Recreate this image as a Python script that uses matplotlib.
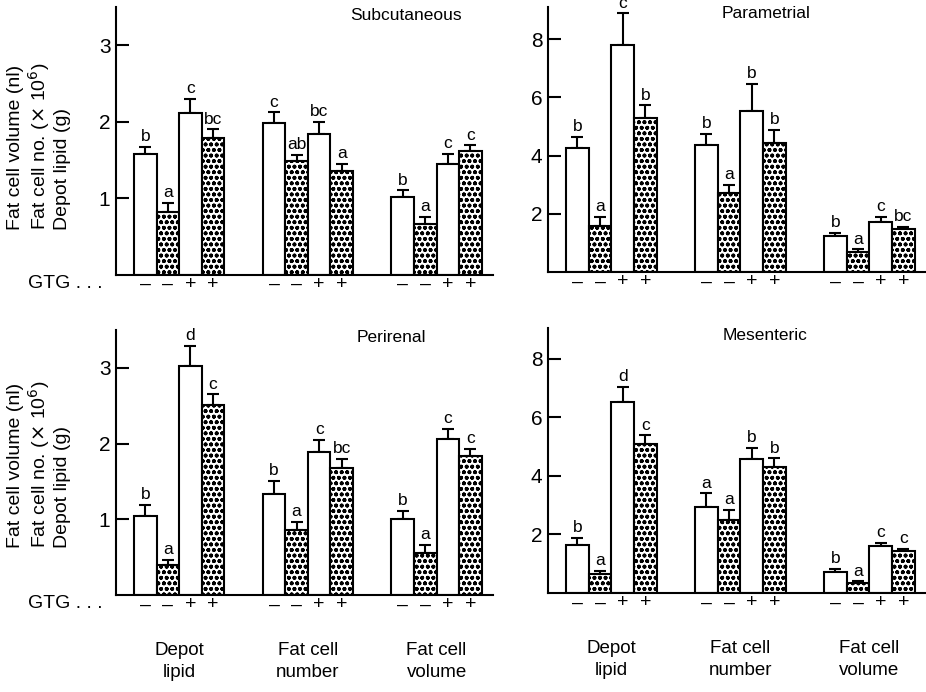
import matplotlib
matplotlib.use("Agg")
import matplotlib.pyplot as plt
import numpy as np

plt.rcParams['font.family'] = ['Liberation Sans', 'DejaVu Sans']
plt.rcParams['hatch.linewidth'] = 1.2
plt.rcParams['hatch.color'] = 'black'

# GTG treatment per bar within each group
gtg = ['–', '–', '+', '+']
grupos = ['Depot\nlipid', 'Fat cell\nnumber', 'Fat cell\nvolume']

# medias e erros (SEM) -- por deposito, 3 grupos x 4 barras
sub_media = [[1.58, 0.82, 2.11, 1.78], [1.98, 1.48, 1.84, 1.35], [1.01, 0.66, 1.45, 1.61]]
sub_erro = [[0.09, 0.12, 0.19, 0.12], [0.14, 0.08, 0.16, 0.10], [0.09, 0.09, 0.13, 0.08]]
sub_letras = [['b', 'a', 'c', 'bc'], ['c', 'ab', 'bc', 'a'], ['b', 'a', 'c', 'c']]

par_media = [[4.26, 1.58, 7.81, 5.28], [4.37, 2.70, 5.53, 4.43], [1.25, 0.70, 1.73, 1.49]]
par_erro = [[0.38, 0.31, 1.07, 0.44], [0.38, 0.28, 0.93, 0.46], [0.10, 0.08, 0.17, 0.07]]
par_letras = [['b', 'a', 'c', 'b'], ['b', 'a', 'b', 'b'], ['b', 'a', 'c', 'bc']]

per_media = [[1.04, 0.40, 3.03, 2.51], [1.34, 0.86, 1.89, 1.68], [1.00, 0.56, 2.06, 1.84]]
per_erro = [[0.15, 0.06, 0.26, 0.14], [0.17, 0.11, 0.16, 0.12], [0.11, 0.10, 0.13, 0.09]]
per_letras = [['b', 'a', 'd', 'c'], ['b', 'a', 'c', 'bc'], ['b', 'a', 'c', 'c']]

mes_media = [[1.63, 0.66, 6.53, 5.10], [2.93, 2.51, 4.58, 4.30], [0.71, 0.35, 1.62, 1.43]]
mes_erro = [[0.25, 0.09, 0.52, 0.28], [0.47, 0.32, 0.37, 0.30], [0.12, 0.05, 0.10, 0.08]]
mes_letras = [['b', 'a', 'd', 'c'], ['a', 'a', 'b', 'b'], ['b', 'a', 'c', 'c']]

W, H = 926, 692
fig = plt.figure(figsize=(W / 100, H / 100), dpi=100)

def px_axes(x0, y_top, x1, y_bot):
    return fig.add_axes([x0 / W, 1 - y_bot / H, (x1 - x0) / W, (y_bot - y_top) / H])

inicio_grupo = [0.8, 6.5, 12.2]

def painel(ax, medias, erros, letras, titulo, ymax, yticks, tx, ty):
    xs_all, labels_all = [], []
    for g in range(3):
        xs = inicio_grupo[g] + np.arange(4) + 0.5
        for i in range(4):
            pontilhado = i % 2 == 1
            ax.bar(xs[i], medias[g][i], width=1.0, color='white', edgecolor='black',
                   linewidth=1.5, hatch='...ooo' if pontilhado else None, zorder=2)
        ax.errorbar(xs, medias[g], yerr=[np.zeros(4), erros[g]], fmt='none', ecolor='black',
                    elinewidth=1.5, capsize=4, capthick=1.5, zorder=1)
        for i in range(4):
            ax.annotate(letras[g][i], (xs[i], medias[g][i] + erros[g][i]), xytext=(0, 2),
                        textcoords='offset points', ha='center', va='bottom', fontsize=12.5)
        xs_all += list(xs)
        labels_all += gtg
    ax.set_xlim(0, 16.7)
    ax.set_ylim(0, ymax)
    ax.set_yticks(yticks)
    ax.set_yticklabels([str(t) for t in yticks], fontsize=15)
    ax.set_xticks(xs_all)
    ax.set_xticklabels(labels_all, fontsize=14)
    ax.tick_params(axis='x', length=0, pad=1)
    ax.tick_params(axis='y', direction='in', length=9, width=1.5, pad=4)
    for s in ['top', 'right']:
        ax.spines[s].set_visible(False)
    for s in ['left', 'bottom']:
        ax.spines[s].set_linewidth(1.5)
    ax.text(tx, ty, titulo, transform=ax.transAxes, ha='center', va='center', fontsize=12.5)

ax1 = px_axes(116, 7, 493, 274.5)
painel(ax1, sub_media, sub_erro, sub_letras, 'Subcutaneous', 3.5, [1, 2, 3], 0.77, 0.97)
ax2 = px_axes(548, 7, 926, 272)
painel(ax2, par_media, par_erro, par_letras, 'Parametrial', 9.1, [2, 4, 6, 8], 0.577, 0.977)
ax3 = px_axes(116, 330, 493, 595)
painel(ax3, per_media, per_erro, per_letras, 'Perirenal', 3.5, [1, 2, 3], 0.73, 0.97)
ax4 = px_axes(548, 328, 926, 593)
painel(ax4, mes_media, mes_erro, mes_letras, 'Mesenteric', 9.05, [2, 4, 6, 8], 0.574, 0.973)

rotulo_y = 'Fat cell volume (nl)\nFat cell no. ($\\times$ 10$^6$)\nDepot lipid (g)'
for yb in [230, 548]:
    fig.text(39 / W, 1 - yb / H, rotulo_y, rotation=90, ha='center', va='bottom',
             multialignment='left', fontsize=14, linespacing=1.1)

for yc in [283, 603]:
    fig.text(28 / W, 1 - yc / H, 'GTG . . .', ha='left', va='center', fontsize=14)

# rotulos das categorias sob os paineis de baixo
for ax in [ax3, ax4]:
    for g in range(3):
        xc = inicio_grupo[g] + 2
        ax.text(xc, -0.25, grupos[g], transform=ax.get_xaxis_transform(), ha='center',
                va='center', fontsize=13.5, linespacing=1.4)

fig.savefig('out.png', dpi=100)
